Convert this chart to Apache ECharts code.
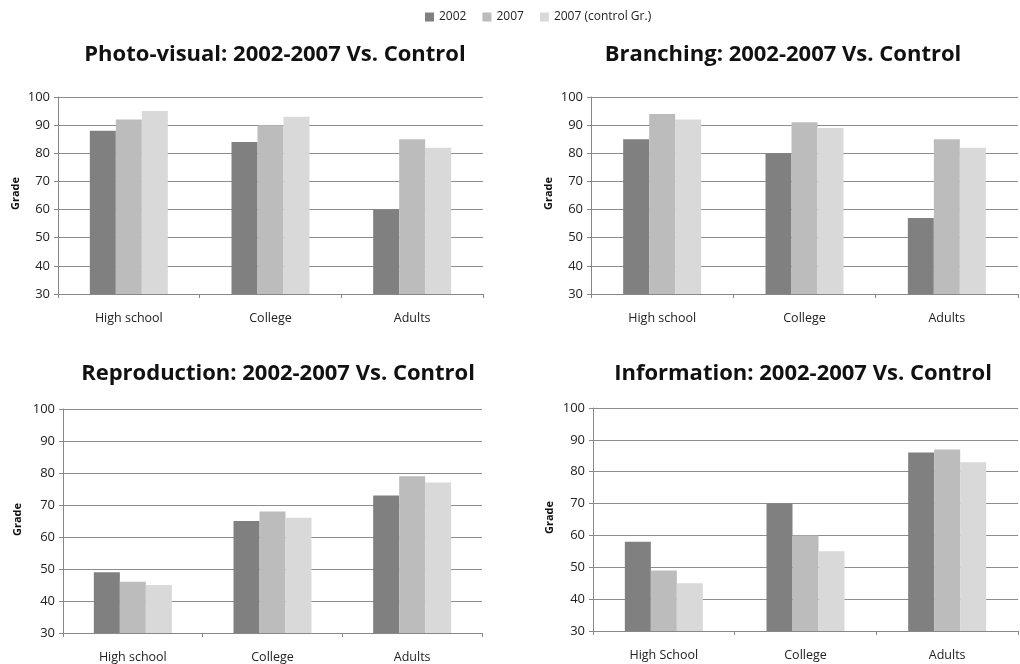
<!DOCTYPE html>
<html>
<head>
<meta charset="utf-8">
<script src="https://cdn.jsdelivr.net/npm/echarts@6/dist/echarts.min.js"></script>
<style>
  html, body { margin: 0; padding: 0; background: #fff; }
  #main { width: 1020px; height: 664px; }
</style>
</head>
<body>
<div id="main"></div>
<script>
const seriesNames = ['2002', '2007', '2007 (control Gr.)'];
const colors = ['#808080', '#bcbcbc', '#d9d9d9'];
const yTicks = [30, 40, 50, 60, 70, 80, 90, 100];

const titles = [
  'Photo-visual: 2002-2007 Vs. Control',
  'Branching: 2002-2007 Vs. Control',
  'Reproduction: 2002-2007 Vs. Control',
  'Information: 2002-2007 Vs. Control'
];

const categoriesTL = ['High school', 'College', 'Adults'];
const categoriesTR = ['High school', 'College', 'Adults'];
const categoriesBL = ['High school', 'College', 'Adults'];
const categoriesBR = ['High School', 'College', 'Adults'];

// Photo-visual
const photo2002 = [88, 84, 60];
const photo2007 = [92, 90, 85];
const photoControl = [95, 93, 82];
// Branching
const branch2002 = [85, 80, 57];
const branch2007 = [94, 91, 85];
const branchControl = [92, 89, 82];
// Reproduction
const repro2002 = [49, 65, 73];
const repro2007 = [46, 68, 79];
const reproControl = [45, 66, 77];
// Information
const info2002 = [58, 70, 86];
const info2007 = [49, 60, 87];
const infoControl = [45, 55, 83];

const panels = [
  { cats: categoriesTL, data: [photo2002, photo2007, photoControl] },
  { cats: categoriesTR, data: [branch2002, branch2007, branchControl] },
  { cats: categoriesBL, data: [repro2002, repro2007, reproControl] },
  { cats: categoriesBR, data: [info2002, info2007, infoControl] }
];

const grids = [
  { left: 58, top: 97, width: 425, height: 197 },
  { left: 591, top: 97, width: 427, height: 197 },
  { left: 63, top: 409, width: 419, height: 224 },
  { left: 593, top: 408, width: 425, height: 223 }
];

const titlePos = [
  { left: 270, top: 39 },
  { left: 778, top: 39 },
  { left: 273, top: 358 },
  { left: 798, top: 358 }
];

const grade = [
  { left: 16, top: 195 },
  { left: 549, top: 195 },
  { left: 18, top: 521 },
  { left: 550, top: 519 }
];

const chart = echarts.init(document.getElementById('main'));

const option = {
  backgroundColor: '#fff',
  animation: false,
  textStyle: { fontFamily: 'Open Sans' },
  color: colors,
  legend: {
    top: 6,
    left: 420,
    itemWidth: 9,
    itemHeight: 9,
    itemGap: 16,
    icon: 'rect',
    textStyle: { fontSize: 12, color: '#222', fontFamily: 'Open Sans' },
    data: seriesNames
  },
  title: titles.map((t, i) => ({
    text: t,
    left: titlePos[i].left,
    top: titlePos[i].top,
    textAlign: 'center',
    textStyle: { fontSize: 22, fontWeight: 'bold', color: '#111', fontFamily: 'Open Sans' }
  })),
  graphic: grade.map(g => ({
    type: 'text',
    left: g.left - 6,
    top: g.top - 18,
    rotation: Math.PI / 2,
    style: { text: 'Grade', font: 'bold 11px "Open Sans"', fill: '#111' }
  })),
  grid: grids.map(g => ({ ...g, containLabel: false })),
  xAxis: panels.map((p, i) => ({
    type: 'category',
    gridIndex: i,
    data: p.cats,
    axisLine: { lineStyle: { color: '#888', width: 1 } },
    axisTick: { show: true, length: 4, lineStyle: { color: '#888' } },
    axisLabel: { fontSize: 12.5, color: '#222', margin: 18 }
  })),
  yAxis: panels.map((p, i) => ({
    type: 'value',
    gridIndex: i,
    min: yTicks[0],
    max: yTicks[yTicks.length - 1],
    interval: 10,
    axisLine: { show: true, lineStyle: { color: '#888' } },
    axisTick: { show: true, length: 4, lineStyle: { color: '#888' } },
    axisLabel: { fontSize: 13, color: '#222', margin: 8 },
    splitLine: { lineStyle: { color: '#8c8c8c', width: 1 } }
  })),
  series: []
};

panels.forEach((p, i) => {
  p.data.forEach((vals, s) => {
    option.series.push({
      name: seriesNames[s],
      type: 'bar',
      xAxisIndex: i,
      yAxisIndex: i,
      data: vals,
      barWidth: 26,
      barGap: '0%',
      itemStyle: { color: colors[s] }
    });
  });
});

chart.setOption(option);
</script>
</body>
</html>
